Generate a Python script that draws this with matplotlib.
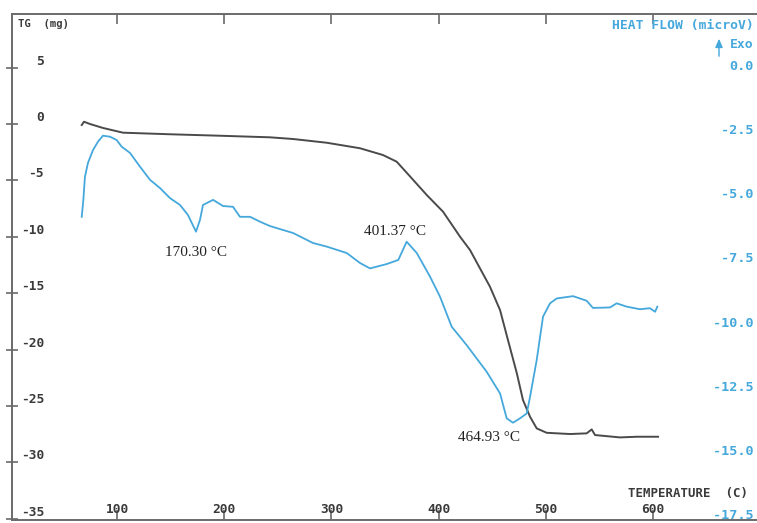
import matplotlib
matplotlib.use("Agg")
import matplotlib.pyplot as plt
import matplotlib.transforms as mtransforms
import numpy as np

# ---- data ----
tg_temp = [67.1, 69.2, 74.8, 86.9, 105.6, 149.4, 196.1, 242.7, 264.2, 295.6, 326.7, 348.1,
           360.9, 374.9, 388.9, 404.1, 420.0, 429.3, 447.9, 457.3, 464.7, 472.9, 478.7,
           485.3, 491.5, 500.8, 522.6, 538.1, 542.8, 545.9, 569.2, 584.8, 604.7]
tg_mass = [-0.09, 0.20, 0.0, -0.35, -0.77, -0.91, -1.04, -1.18, -1.33, -1.66, -2.15, -2.75,
           -3.34, -4.81, -6.29, -7.77, -9.99, -11.17, -14.42, -16.49, -19.15, -22.07, -24.47,
           -25.95, -26.98, -27.37, -27.48, -27.42, -27.07, -27.57, -27.78, -27.72, -27.72]

hf_temp = [67.1, 68.6, 70.1, 72.9, 77.6, 82.3, 86.9, 93.5, 99.7, 104.4, 112.1, 121.5, 130.8,
           140.1, 149.4, 158.8, 166.2, 173.7, 177.4, 180.2, 189.6, 198.9, 208.2, 214.7, 224.1,
           233.4, 242.7, 264.2, 282.8, 295.6, 314.3, 326.7, 336.0, 351.6, 362.4, 370.2, 379.6,
           392.0, 401.3, 412.2, 426.2, 444.9, 457.3, 463.5, 469.4, 475.9, 482.2, 485.3, 491.5,
           497.4, 503.9, 510.2, 525.4, 538.1, 544.0, 559.9, 566.1, 575.5, 587.9, 597.2, 601.9, 604.0]
hf_flow = [-5.80, -5.14, -4.24, -3.70, -3.20, -2.87, -2.64, -2.68, -2.81, -3.07, -3.31, -3.85,
           -4.36, -4.68, -5.07, -5.34, -5.73, -6.38, -5.92, -5.34, -5.14, -5.38, -5.41, -5.80,
           -5.80, -5.99, -6.16, -6.43, -6.82, -6.96, -7.21, -7.60, -7.81, -7.64, -7.48, -6.77,
           -7.21, -8.13, -8.91, -10.08, -10.80, -11.84, -12.68, -13.65, -13.82, -13.65, -13.46,
           -12.81, -11.38, -9.69, -9.17, -8.98, -8.89, -9.07, -9.35, -9.33, -9.17, -9.30, -9.40,
           -9.36, -9.50, -9.30]

x_ticks = [100, 200, 300, 400, 500, 600]
tg_ticks = [5, 0, -5, -10, -15, -20, -25, -30, -35]
hf_ticks = [0.0, -2.5, -5.0, -7.5, -10.0, -12.5, -15.0, -17.5]
hf_tick_labels = ["0.0", "-2.5", "-5.0", "-7.5", "-10.0", "-12.5", "-15.0", "-17.5"]

annotations = [("170.30 \u00b0C", 173.7, -11.35),
               ("401.37 \u00b0C", 359.3, -9.57),
               ("464.93 \u00b0C", 447.0, -27.75)]

# ---- styling ----
W, H = 757, 523
DPI = 100
TG_COLOR = "#4a4a4a"
HF_COLOR = "#45a8dc"
AXIS_COLOR = "#6a6a6a"
TEXT_DARK = "#3a3a3a"
MONO = "DejaVu Sans Mono"
FS = 9.3

fig = plt.figure(figsize=(W / DPI, H / DPI), dpi=DPI)
fig.patch.set_facecolor("white")

left_px, right_px, top_px, bottom_px = 12, 757, 14, 520
ax = fig.add_axes([left_px / W, 1 - bottom_px / H, (right_px - left_px) / W, (bottom_px - top_px) / H])
ax.set_facecolor("none")
ax.set_xlim(2.05, 697.0)
ax.set_ylim(-35.1, 9.75)

ax2 = ax.twinx()
ax2.set_ylim(-17.61, 2.10)

ax.plot(tg_temp, tg_mass, color=TG_COLOR, lw=1.4, zorder=3)
ax2.plot(hf_temp, hf_flow, color=HF_COLOR, lw=1.3, zorder=3)

ax.spines["right"].set_visible(False)
ax2.spines["right"].set_visible(False)
for sp in ["left", "top", "bottom"]:
    ax.spines[sp].set_color(AXIS_COLOR)
    ax.spines[sp].set_linewidth(1.4)
    ax2.spines[sp].set_visible(False)

# x axis: labels inside, just above the bottom spine
ax.set_xticks(x_ticks)
ax.set_xticklabels([str(t) for t in x_ticks])
ax.tick_params(axis="x", which="both", direction="in", length=7, width=1.2, color=AXIS_COLOR,
               pad=-12.5, labelsize=FS, labelcolor=TEXT_DARK, top=True)
for lab in ax.get_xticklabels():
    lab.set_fontfamily(MONO)
    lab.set_fontweight("bold")

# left y axis: labels inside, slightly above the tick
ax.set_yticks(tg_ticks)
ax.set_yticklabels([str(t) for t in tg_ticks])
ax.tick_params(axis="y", direction="inout", length=8, width=1.2, color=AXIS_COLOR,
               pad=-27, labelsize=FS, labelcolor=TEXT_DARK)
offset = mtransforms.ScaledTranslation(0, 8 / DPI, fig.dpi_scale_trans)
for lab in ax.get_yticklabels():
    lab.set_fontfamily(MONO)
    lab.set_fontweight("bold")
    lab.set_transform(lab.get_transform() + offset)

# right y axis: labels right-aligned at the right edge
ax2.set_yticks(hf_ticks)
ax2.set_yticklabels(hf_tick_labels)
ax2.tick_params(axis="y", length=0, pad=-2.2, labelsize=FS + 0.4, labelcolor=HF_COLOR)
offset_r = mtransforms.ScaledTranslation(0, 3 / DPI, fig.dpi_scale_trans)
for lab in ax2.get_yticklabels():
    lab.set_fontfamily(MONO)
    lab.set_fontweight("bold")
    lab.set_horizontalalignment("right")
    lab.set_transform(lab.get_transform() + offset_r)

# axis titles
fig.text(18 / W, 1 - 24 / H, "TG  (mg)", color=TEXT_DARK, fontsize=7.6, family=MONO,
         fontweight="bold", ha="left", va="center")
fig.text(754 / W, 1 - 25 / H, "HEAT FLOW (microV)", color=HF_COLOR, fontsize=9.4, family=MONO,
         fontweight="bold", ha="right", va="center")
fig.text(730 / W, 1 - 44 / H, "Exo", color=HF_COLOR, fontsize=9.4, family=MONO,
         fontweight="bold", ha="left", va="center")
fig.patches.append(matplotlib.patches.FancyArrowPatch(
    (719 / W, 1 - 59 / H), (719 / W, 1 - 36 / H), transform=fig.transFigure,
    arrowstyle="-|>,head_length=5,head_width=2.2", color=HF_COLOR, lw=1.0, mutation_scale=1))
fig.text(748 / W, 1 - 494 / H, "TEMPERATURE  (C)", color=TEXT_DARK, fontsize=8.9, family=MONO,
         fontweight="bold", ha="right", va="center")

for txt, x, y in annotations:
    ax.text(x, y, txt, family="Liberation Serif", fontsize=11, color="#222222",
            ha="center", va="center", zorder=5)

fig.savefig("out.png", dpi=DPI)
